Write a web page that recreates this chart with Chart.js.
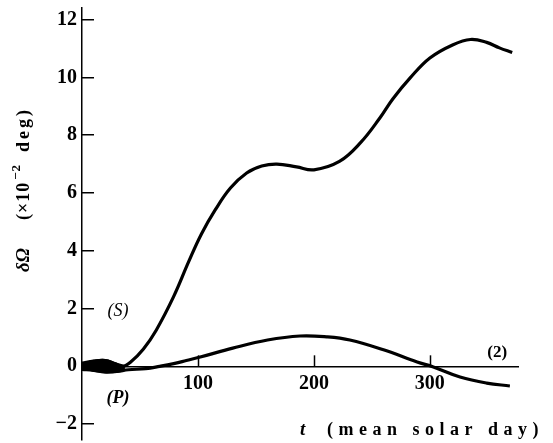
<!DOCTYPE html>
<html>
<head>
<meta charset="utf-8">
<script src="https://cdn.jsdelivr.net/npm/chart.js@4/dist/chart.umd.min.js"></script>
<style>
  body { margin: 0; background: #fff; }
  #wrap { width: 553px; height: 443px; position: relative; }
</style>
</head>
<body>
<div id="wrap"><canvas id="chart"></canvas></div>
<script>
// curve (S): rapid start near zero, then the long climb
const sTimes = [0, 10, 20, 28, 35, 42, 53, 64, 79, 92, 103, 115, 128, 142, 155, 168, 185, 200, 222, 240, 257, 268, 283, 300, 320, 335, 349, 360, 371]
const sValues = [0.05, 0.17, 0.2, 0.1, 0, 0.15, 0.6, 1.25, 2.41, 3.62, 4.58, 5.42, 6.17, 6.69, 6.93, 7.0, 6.9, 6.8, 7.09, 7.73, 8.6, 9.25, 9.98, 10.67, 11.13, 11.31, 11.21, 11.02, 10.86]

// curve (P): small hump, crosses zero near day 300
const pTimes = [0, 10, 20, 30, 40, 55, 67, 80, 90, 102, 130, 160, 188, 211, 231, 260, 289, 303, 326, 349, 369]
const pValues = [-0.05, -0.13, -0.2, -0.18, -0.12, -0.08, 0, 0.1, 0.2, 0.32, 0.63, 0.91, 1.05, 1.02, 0.91, 0.57, 0.15, -0.02, -0.37, -0.58, -0.68]

// envelope of the dense oscillation at the start
const blobTimes = [0, 10, 20, 28, 37]
const blobTop = [0.13, 0.2, 0.22, 0.12, 0]
const blobBottom = [-0.13, -0.16, -0.2, -0.2, -0.13]

const xTicks = [100, 200, 300]
const yTicks = [-2, 0, 2, 4, 6, 8, 10, 12]

const labels = [
  { text: "(S)", t: 31, v: 1.9, font: 'italic 18px "Liberation Serif"' },
  { text: "(P)", t: 31, v: -1.1, font: 'italic bold 18px "Liberation Serif"' },
  { text: "(2)", t: 358, v: 0.46, font: 'bold 17px "Liberation Serif"' }
]

const pts = (xs, ys) => xs.map((x, i) => ({ x: x, y: ys[i] }))
const tickFont = { family: "Liberation Serif", size: 20, weight: "bold" }

const textPlugin = {
  id: "texts",
  afterDraw(chart) {
    const ctx = chart.ctx
    const xs = chart.scales.x
    const ys = chart.scales.y
    ctx.save()
    ctx.fillStyle = "#000"
    ctx.strokeStyle = "#000"
    ctx.lineWidth = 1.5

    // upward tick marks on the x axis
    const y0 = ys.getPixelForValue(0)
    xTicks.forEach(v => {
      const px = Math.round(xs.getPixelForValue(v)) + 0.5
      ctx.beginPath()
      ctx.moveTo(px, y0)
      ctx.lineTo(px, y0 - 11)
      ctx.stroke()
    })

    ctx.textAlign = "center"
    ctx.textBaseline = "middle"
    labels.forEach(l => {
      ctx.font = l.font
      ctx.fillText(l.text, xs.getPixelForValue(l.t), ys.getPixelForValue(l.v))
    })

    // x title
    ctx.textAlign = "left"
    ctx.font = 'italic bold 19px "Liberation Serif"'
    ctx.fillText("t", 300, 430)
    ctx.font = 'bold 18px "Liberation Serif"'
    ctx.letterSpacing = "5.5px"
    ctx.fillText("(mean solar day)", 327, 430)
    ctx.letterSpacing = "0px"

    // y title, rotated
    ctx.translate(24, 272)
    ctx.rotate(-Math.PI / 2)
    let pos = 0
    ctx.font = 'italic bold 19px "Liberation Serif"'
    ctx.fillText("δΩ", pos, 0)
    pos += ctx.measureText("δΩ").width + 28
    ctx.font = 'bold 18px "Liberation Serif"'
    ctx.letterSpacing = "1px"
    ctx.fillText("(×10", pos, 0)
    pos += ctx.measureText("(×10").width + 2
    ctx.font = 'bold 13px "Liberation Serif"'
    ctx.fillText("−2", pos, -7)
    pos += ctx.measureText("−2").width + 12
    ctx.font = 'bold 18px "Liberation Serif"'
    ctx.letterSpacing = "3px"
    ctx.fillText("deg)", pos, 0)
    ctx.restore()
  }
}

new Chart(document.getElementById("chart"), {
  type: "line",
  data: {
    datasets: [
      {
        data: pts(blobTimes, blobTop),
        borderColor: "#000",
        backgroundColor: "#000",
        borderWidth: 2,
        fill: "+1",
        tension: 0.4
      },
      {
        data: pts(blobTimes, blobBottom),
        borderColor: "#000",
        borderWidth: 2,
        fill: false,
        tension: 0.4
      },
      {
        label: "S",
        data: pts(sTimes, sValues),
        borderColor: "#000",
        borderWidth: 3.2,
        tension: 0.4,
        fill: false
      },
      {
        label: "P",
        data: pts(pTimes, pValues),
        borderColor: "#000",
        borderWidth: 3.2,
        tension: 0.4,
        fill: false
      }
    ]
  },
  options: {
    responsive: true,
    maintainAspectRatio: false,
    animation: false,
    elements: { point: { radius: 0 } },
    layout: { padding: { top: 8, right: 35, bottom: 3, left: 0 } },
    plugins: {
      legend: { display: false },
      tooltip: { enabled: false }
    },
    scales: {
      x: {
        type: "linear",
        min: 0,
        max: 376,
        position: { y: 0 },
        afterBuildTicks: s => { s.ticks = xTicks.map(v => ({ value: v })) },
        afterFit: s => { s.paddingLeft = 0; s.paddingRight = 0 },
        grid: { display: false },
        border: { color: "#000", width: 1.5 },
        ticks: { color: "#000", font: tickFont, padding: -2, maxRotation: 0 }
      },
      y: {
        type: "linear",
        min: -2.55,
        max: 12.4,
        afterBuildTicks: s => { s.ticks = yTicks.map(v => ({ value: v })) },
        afterFit: s => { s.width = 82; s.paddingTop = 0; s.paddingBottom = 0 },
        grid: { drawOnChartArea: false, tickLength: -12, color: "#000", lineWidth: 1.5 },
        border: { color: "#000", width: 1.5 },
        ticks: {
          color: "#000",
          font: tickFont,
          padding: 17,
          callback: v => v < 0 ? "−" + Math.abs(v) : v
        }
      }
    }
  },
  plugins: [textPlugin]
})
</script>
</body>
</html>
